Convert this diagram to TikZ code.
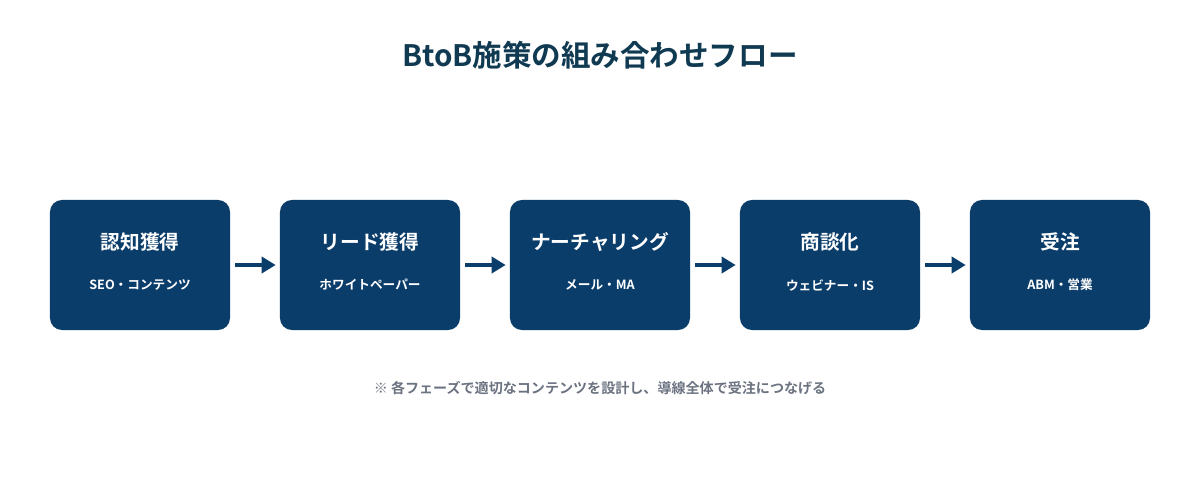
\documentclass[tikz,border=0pt]{standalone}
\usepackage{fontspec}
\setmainfont{Noto Sans CJK JP}[BoldFont={* Bold}]
\usetikzlibrary{arrows.meta, positioning}
\definecolor{navy}{HTML}{0B3D6B}
\definecolor{titlecol}{HTML}{0F3A52}
\definecolor{notecol}{HTML}{6B7280}
\tikzset{
    phase/.style={
        rectangle,
        rounded corners=0.3cm,
        fill=navy,
        minimum width=4.5cm,
        minimum height=3.25cm
    },
    phasetitle/.style={
        text=white,
        font=\fontsize{14}{16}\selectfont\bfseries
    },
    phasesub/.style={
        text=white,
        font=\fontsize{9}{11}\selectfont\bfseries
    },
    flow/.style={
        draw=navy,
        line width=2.8pt,
        -{Triangle[length=0.35cm,width=0.4cm]}
    }
}
\begin{document}
\begin{tikzpicture}[x=0.025cm,y=-0.025cm]
\useasboundingbox (0,0) rectangle (1200,480);

\node[text=titlecol, font=\fontsize{21}{24}\selectfont\bfseries] (title) at (600,55) {BtoB施策の組み合わせフロー};

\node[phase] (p1) at (140,265) {};
\node[phase] (p2) at (370,265) {};
\node[phase] (p3) at (600,265) {};
\node[phase] (p4) at (830,265) {};
\node[phase] (p5) at (1060,265) {};

\node[phasetitle] at (140,242) {認知獲得};
\node[phasesub] at (140,285) {SEO・コンテンツ};
\node[phasetitle] at (370,242) {リード獲得};
\node[phasesub] at (370,285) {ホワイトペーパー};
\node[phasetitle] at (600,242) {ナーチャリング};
\node[phasesub] at (600,285) {メール・MA};
\node[phasetitle] at (830,242) {商談化};
\node[phasesub] at (830,285) {ウェビナー・IS};
\node[phasetitle] at (1060,242) {受注};
\node[phasesub] at (1060,285) {ABM・営業};

\draw[flow] ([xshift=0.125cm]p1.east) -- ([xshift=-0.1cm]p2.west);
\draw[flow] ([xshift=0.125cm]p2.east) -- ([xshift=-0.1cm]p3.west);
\draw[flow] ([xshift=0.125cm]p3.east) -- ([xshift=-0.1cm]p4.west);
\draw[flow] ([xshift=0.125cm]p4.east) -- ([xshift=-0.1cm]p5.west);

\node[text=notecol, font=\fontsize{10}{12}\selectfont\bfseries] (note) at (600,388) {※ 各フェーズで適切なコンテンツを設計し、導線全体で受注につなげる};

\end{tikzpicture}
\end{document}
